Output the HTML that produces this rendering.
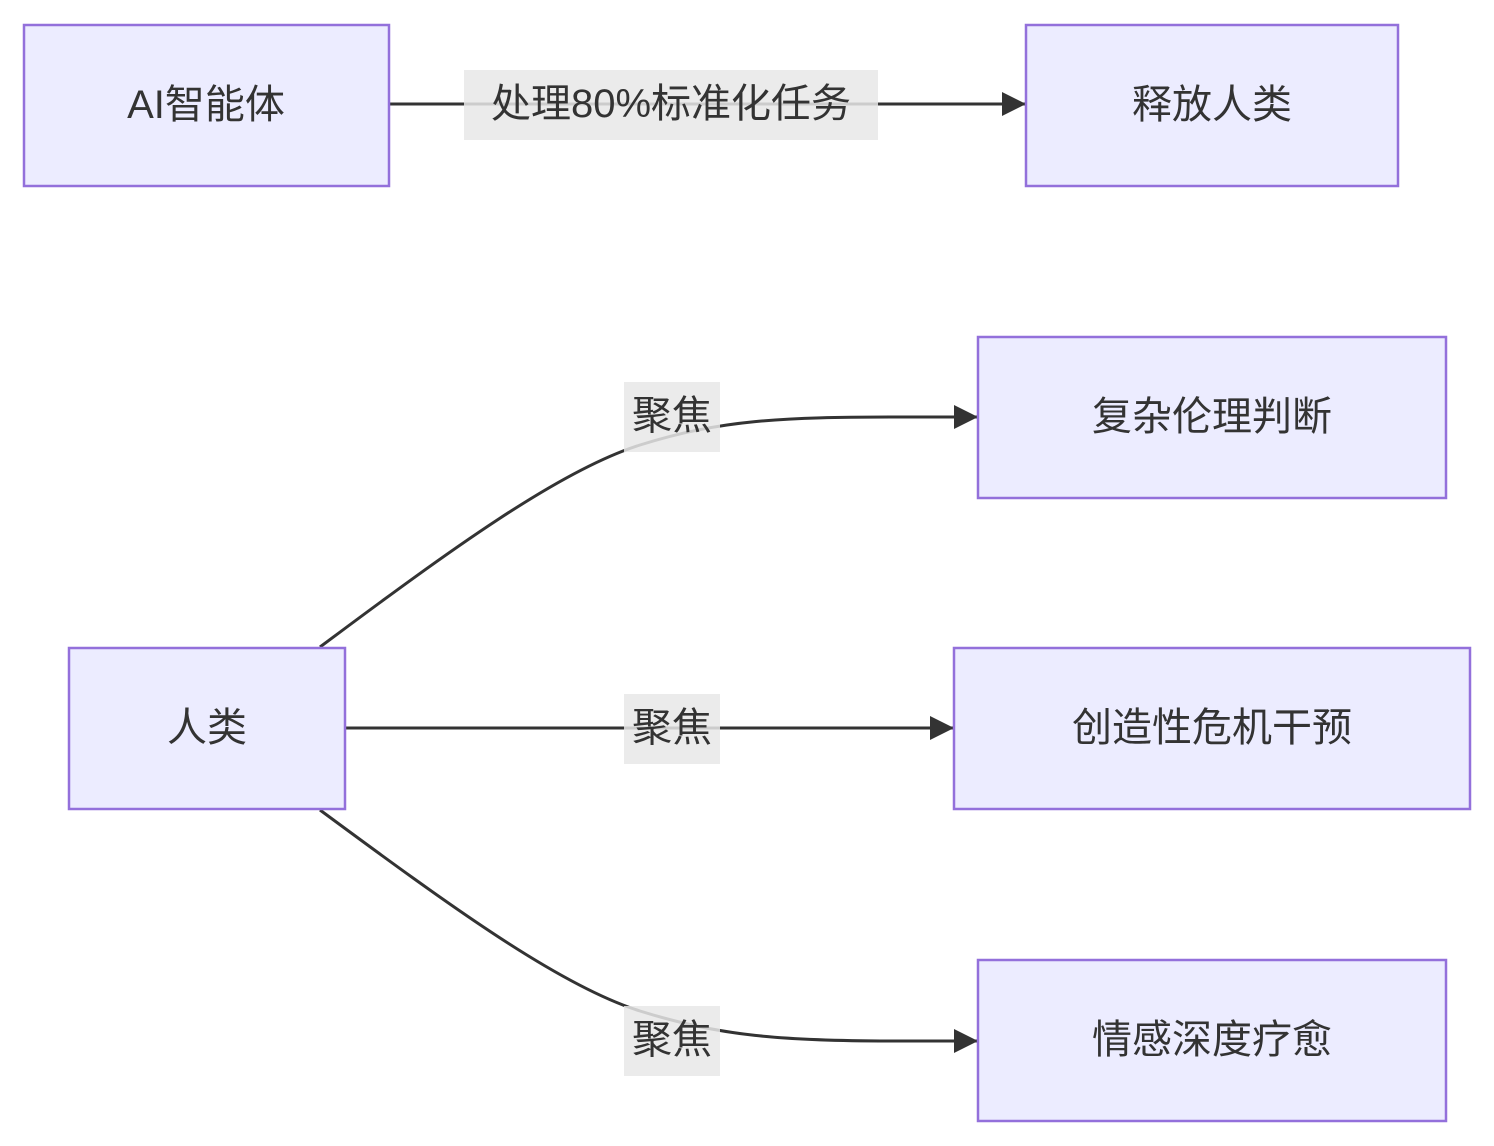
<!DOCTYPE html>
<html><head><meta charset="utf-8"><style>
html,body{margin:0;padding:0;background:#fff;}
svg{display:block;}
text{font-family:"Liberation Sans","Noto Sans CJK SC",sans-serif;fill:#333;font-size:40px;}
.n{fill:#ECECFF;stroke:#9370DB;stroke-width:2.5;}
.e{fill:none;stroke:#333;stroke-width:3;}
.l{fill:rgba(232,232,232,0.85);}
</style></head><body>
<svg width="1494" height="1146" viewBox="0 0 1494 1146">
<defs><marker id="a" markerWidth="12" markerHeight="12" refX="11" refY="6" orient="auto" markerUnits="userSpaceOnUse" viewBox="0 0 12 12"><path d="M0,0 L12,6 L0,12z" fill="#333"/></marker>
<marker id="b" viewBox="0 0 10 10" refX="10" refY="5" markerWidth="24" markerHeight="24" markerUnits="userSpaceOnUse" orient="auto"><path d="M0,0 L10,5 L0,10z" fill="#333"/></marker></defs>
<path class="e" d="M389,104 L1026,104" marker-end="url(#b)"/>
<path class="e" d="M320,647 C450,550 560,470 640,445 C720,420 780,417 900,417 L978,417" marker-end="url(#b)"/>
<path class="e" d="M345,728 L954,728" marker-end="url(#b)"/>
<path class="e" d="M320,810 C450,906 560,986 640,1011 C720,1036 780,1041 900,1041 L978,1041" marker-end="url(#b)"/>
<rect class="n" x="24" y="25" width="365" height="161"/>
<rect class="n" x="1026" y="25" width="372" height="161"/>
<rect class="n" x="978" y="337" width="468" height="161"/>
<rect class="n" x="69" y="648" width="276" height="161"/>
<rect class="n" x="954" y="648" width="516" height="161"/>
<rect class="n" x="978" y="960" width="468" height="161"/>
<rect class="l" x="464" y="70" width="414" height="70"/>
<rect class="l" x="624" y="382" width="96" height="70"/>
<rect class="l" x="624" y="694" width="96" height="70"/>
<rect class="l" x="624" y="1006" width="96" height="70"/>
<g text-anchor="middle" dominant-baseline="central">
<text x="206" y="105">AI智能体</text>
<text x="1212" y="105">释放人类</text>
<text x="1212" y="417">复杂伦理判断</text>
<text x="207" y="728">人类</text>
<text x="1212" y="728">创造性危机干预</text>
<text x="1212" y="1040">情感深度疗愈</text>
<text x="671" y="104">处理80%标准化任务</text>
<text x="672" y="416">聚焦</text>
<text x="672" y="728">聚焦</text>
<text x="672" y="1040">聚焦</text>
</g>
</svg>
</body></html>
